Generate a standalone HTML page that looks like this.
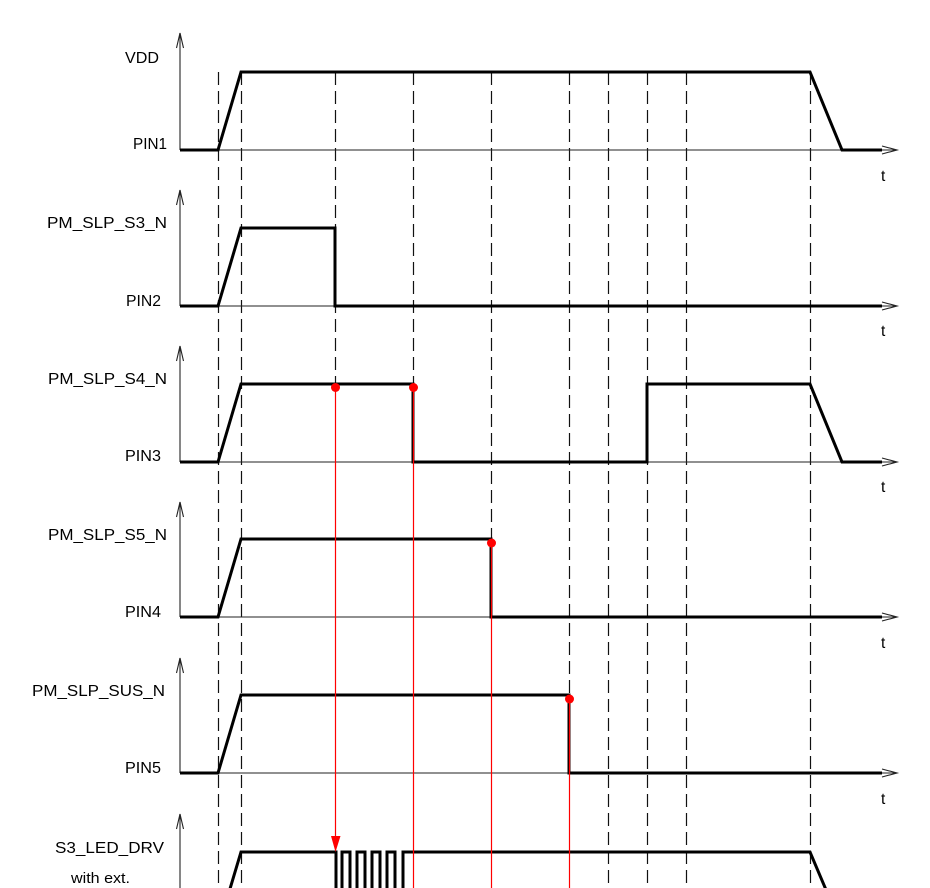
<!DOCTYPE html>
<html>
<head>
<meta charset="utf-8">
<style>
html,body{margin:0;padding:0;background:#fff;}
svg{display:block;}
text{font-family:"Liberation Sans",Arial,sans-serif;fill:#000;}
</style>
</head>
<body>
<svg width="930" height="888" viewBox="0 0 930 888" xmlns="http://www.w3.org/2000/svg">
<rect width="930" height="888" fill="#fff"/>

<!-- dashed verticals -->
<g stroke="#111" stroke-width="1.2" stroke-dasharray="13 6" fill="none">
  <line x1="218.5" y1="72" x2="218.5" y2="888"/>
  <line x1="241.5" y1="72" x2="241.5" y2="888"/>
  <line x1="335.5" y1="72" x2="335.5" y2="384"/>
  <line x1="413.5" y1="72" x2="413.5" y2="384"/>
  <line x1="491.5" y1="72" x2="491.5" y2="539"/>
  <line x1="569.5" y1="72" x2="569.5" y2="695"/>
  <line x1="608.5" y1="72" x2="608.5" y2="888"/>
  <line x1="647.5" y1="72" x2="647.5" y2="888"/>
  <line x1="686.5" y1="72" x2="686.5" y2="888"/>
  <line x1="810.5" y1="72" x2="810.5" y2="888"/>
</g>

<!-- axes -->
<g stroke="#222" stroke-width="1.1" fill="none">
  <line x1="180" y1="150" x2="897" y2="150"/>
  <polyline points="882,146 897,150 882,154"/>
  <line x1="180" y1="150" x2="180" y2="33"/>
  <polyline points="176.5,48 180,33 183.5,48"/>
  <line x1="180" y1="306" x2="897" y2="306"/>
  <polyline points="882,302 897,306 882,310"/>
  <line x1="180" y1="306" x2="180" y2="190"/>
  <polyline points="176.5,205 180,190 183.5,205"/>
  <line x1="180" y1="462" x2="897" y2="462"/>
  <polyline points="882,458 897,462 882,466"/>
  <line x1="180" y1="462" x2="180" y2="346"/>
  <polyline points="176.5,361 180,346 183.5,361"/>
  <line x1="180" y1="617" x2="897" y2="617"/>
  <polyline points="882,613 897,617 882,621"/>
  <line x1="180" y1="617" x2="180" y2="502"/>
  <polyline points="176.5,517 180,502 183.5,517"/>
  <line x1="180" y1="773" x2="897" y2="773"/>
  <polyline points="882,769 897,773 882,777"/>
  <line x1="180" y1="773" x2="180" y2="658"/>
  <polyline points="176.5,673 180,658 183.5,673"/>
  <line x1="180" y1="929" x2="180" y2="814"/>
  <polyline points="176.5,829 180,814 183.5,829"/>
</g>

<!-- signals -->
<g stroke="#000" stroke-width="3" fill="none" stroke-linejoin="miter">
  <polyline points="180,150 218,150 241,72 810,72 842,150 882,150"/>
  <polyline points="180,306 218,306 241,228 335,228 335,306 882,306"/>
  <polyline points="180,462 218,462 241,384 413,384 413,462 647,462 647,384 810,384 842,462 882,462"/>
  <polyline points="180,617 218,617 241,539 491,539 491,617 882,617"/>
  <polyline points="180,773 218,773 241,695 569,695 569,773 882,773"/>
  <polyline points="218,929 241,852 336,852 336,930 342,930 342,852 350,852 350,930 357,930 357,852 365,852 365,930 372,930 372,852 380,852 380,930 387,930 387,852 395,852 395,930 403,930 403,852 810,852 843,930"/>
</g>

<!-- red markers -->
<g stroke="#ff0000" stroke-width="1.2" fill="none">
  <line x1="335.5" y1="388" x2="335.5" y2="838"/>
  <line x1="413.5" y1="388" x2="413.5" y2="888"/>
  <line x1="491.5" y1="543" x2="491.5" y2="888"/>
  <line x1="569.5" y1="699" x2="569.5" y2="888"/>
</g>
<g fill="#ff0000">
  <polygon points="331,836 340.5,836 335.5,852"/>
  <circle cx="335.5" cy="387.5" r="4.5"/>
  <circle cx="413.5" cy="387.5" r="4.5"/>
  <circle cx="491.5" cy="543" r="4.5"/>
  <circle cx="569.5" cy="699" r="4.5"/>
</g>

<!-- labels -->
<g font-size="15.5">
  <text x="125" y="63" textLength="34" lengthAdjust="spacingAndGlyphs">VDD</text>
  <text x="133" y="149" textLength="34" lengthAdjust="spacingAndGlyphs">PIN1</text>
  <text x="47" y="228" textLength="120" lengthAdjust="spacingAndGlyphs">PM_SLP_S3_N</text>
  <text x="126" y="306" textLength="35" lengthAdjust="spacingAndGlyphs">PIN2</text>
  <text x="48" y="384" textLength="119" lengthAdjust="spacingAndGlyphs">PM_SLP_S4_N</text>
  <text x="125" y="461" textLength="36" lengthAdjust="spacingAndGlyphs">PIN3</text>
  <text x="48" y="540" textLength="119" lengthAdjust="spacingAndGlyphs">PM_SLP_S5_N</text>
  <text x="125" y="617" textLength="36" lengthAdjust="spacingAndGlyphs">PIN4</text>
  <text x="32" y="696" textLength="133" lengthAdjust="spacingAndGlyphs">PM_SLP_SUS_N</text>
  <text x="125" y="773" textLength="36" lengthAdjust="spacingAndGlyphs">PIN5</text>
  <text x="55" y="853" textLength="109" lengthAdjust="spacingAndGlyphs">S3_LED_DRV</text>
  <text x="71" y="883" font-size="14.5" textLength="59" lengthAdjust="spacingAndGlyphs">with ext.</text>
  <text x="881" y="181">t</text>
  <text x="881" y="336">t</text>
  <text x="881" y="492">t</text>
  <text x="881" y="648">t</text>
  <text x="881" y="804">t</text>
</g>
</svg>
</body>
</html>
